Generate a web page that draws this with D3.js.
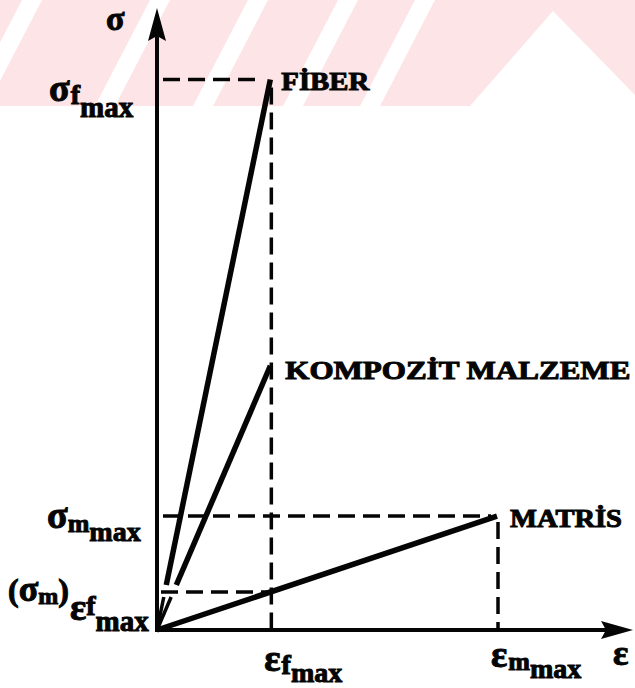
<!DOCTYPE html>
<html>
<head>
<meta charset="utf-8">
<script src="https://cdn.jsdelivr.net/npm/d3@7"></script>
<style>
  html, body { margin: 0; padding: 0; background: #fff; }
  svg { display: block; }
</style>
</head>
<body>
<svg id="chart" width="635" height="688"></svg>
<script>
// Strain values (in units of the fiber failure strain)
const strainMarks = ["f", "m"];
const strainValues = [1, 3];
// Materials, their failure strain and failure stress (stress in units of σf,max / 10)
const materials = ["FİBER", "KOMPOZİT MALZEME", "MATRİS"];
const failureStrain = [1, 1, 3];
const failureStress = [10, 4.8, 2.07];
// Matrix stress at the fiber failure strain
const matrixStressAtFiberFailure = 0.69;

const W = 635, H = 688;
const FONT = "'Liberation Serif', 'Times New Roman', serif";
const svg = d3.select("#chart");

const x = d3.scaleLinear().domain([0, 4.2]).range([157, 633]);
const y = d3.scaleLinear().domain([0, 11.3]).range([630, 8]);

// light diagonal band pattern across the top strip
const band = svg.append("g");
band.append("rect").attr("x", 0).attr("y", 0).attr("width", W).attr("height", 106).attr("fill", "#fce4e7");
const gapTops = [22, 150, 248, 338, 415];
gapTops.forEach(t => {
  band.append("polygon")
    .attr("points", `${t},0 ${t + 20},0 ${t + 20 - 55},106 ${t - 55},106`)
    .attr("fill", "#fff");
});
band.append("polygon").attr("points", "553,11 470,106 635,106 635,95").attr("fill", "#fff");

const ink = "#050505";
const g = svg.append("g");

// dashed reference lines
const dash = "17,8";
function dashed(x1, y1, x2, y2) {
  g.append("line").attr("x1", x1).attr("y1", y1).attr("x2", x2).attr("y2", y2)
    .attr("stroke", ink).attr("stroke-width", 3.5).attr("stroke-dasharray", dash);
}
// σf,max
dashed(x(0) + 6, y(failureStress[0]), x(failureStrain[0]) - 14, y(failureStress[0]));
// εf,max vertical
dashed(x(strainValues[0]) + 1, y(failureStress[0]) + 8, x(strainValues[0]) + 1, y(0) - 2);
// σm,max
dashed(x(0) + 6, y(failureStress[2]), x(failureStrain[2]) - 6, y(failureStress[2]));
// εm,max vertical
dashed(x(strainValues[1]) + 1, y(failureStress[2]) + 6, x(strainValues[1]) + 1, y(0) - 2);
// (σm) at εf,max
dashed(x(0) + 4, y(matrixStressAtFiberFailure), x(strainValues[0]) + 1, y(matrixStressAtFiberFailure));

// stress-strain lines
const gapY = y(matrixStressAtFiberFailure);
materials.forEach((m, i) => {
  const x0 = x(0), y0 = y(0), x1 = x(failureStrain[i]), y1 = y(failureStress[i]);
  if (i < 2) {
    // broken where the dashed line crosses
    const tAt = yy => (y0 - yy) / (y0 - y1);
    const ta = tAt(gapY + 5), tb = tAt(gapY - 7);
    g.append("line").attr("x1", x0).attr("y1", y0)
      .attr("x2", x0 + (x1 - x0) * ta).attr("y2", y0 + (y1 - y0) * ta)
      .attr("stroke", ink).attr("stroke-width", 3.5);
    g.append("line").attr("x1", x0 + (x1 - x0) * tb).attr("y1", y0 + (y1 - y0) * tb)
      .attr("x2", x1).attr("y2", y1)
      .attr("stroke", ink).attr("stroke-width", 5.5);
  } else {
    g.append("line").attr("x1", x0).attr("y1", y0).attr("x2", x1).attr("y2", y1)
      .attr("stroke", ink).attr("stroke-width", 5.5);
  }
});

// axes
g.append("line").attr("x1", x(0)).attr("y1", y(0) + 2).attr("x2", x(0)).attr("y2", y(11.3) + 25)
  .attr("stroke", ink).attr("stroke-width", 4);
g.append("line").attr("x1", x(0) - 2).attr("y1", y(0)).attr("x2", x(4.2) - 25).attr("y2", y(0))
  .attr("stroke", ink).attr("stroke-width", 4);
const ax = x(0), ayTop = y(11.3);
g.append("path").attr("d", `M${ax},${ayTop} L${ax + 9},${ayTop + 33} L${ax},${ayTop + 28} L${ax - 9},${ayTop + 33} Z`).attr("fill", ink);
const axR = x(4.2), ay0 = y(0);
g.append("path").attr("d", `M${axR},${ay0} L${axR - 32},${ay0 + 9} L${axR - 27},${ay0} L${axR - 32},${ay0 - 9} Z`).attr("fill", ink);

function styleText(t) {
  return t.attr("font-family", FONT).attr("font-weight", "bold")
    .attr("fill", ink).attr("stroke", ink).attr("stroke-width", 1);
}

// material labels
const labelPos = [[11, 10], [15, 13], [13, 11]];
const labelLen = [88, 345, 112];
materials.forEach((m, i) => {
  styleText(g.append("text"))
    .attr("x", x(failureStrain[i]) + labelPos[i][0])
    .attr("y", y(failureStress[i]) + labelPos[i][1])
    .attr("font-size", 25)
    .attr("textLength", labelLen[i])
    .attr("lengthAdjust", "spacingAndGlyphs")
    .text(m);
});

// math labels: sequence of [text, size, dx, dy]
function mathLabel(xx, yy, parts) {
  const t = styleText(g.append("text")).attr("x", xx).attr("y", yy);
  parts.forEach(p => {
    t.append("tspan").attr("font-size", p[1]).attr("dx", p[2] || 0).attr("dy", p[3] || 0).text(p[0]);
  });
}
// axis names
mathLabel(106, 30, [["σ", 34]]);
mathLabel(613, 665, [["ε", 36]]);
// stress marks
mathLabel(49, y(failureStress[0]) + 21, [["σ", 38], ["f", 28, 1, 3], ["max", 29, 0, 13]]);
mathLabel(47, y(failureStress[2]) + 12, [["σ", 38], ["m", 26, 0, 4], ["max", 28, 0, 9]]);
mathLabel(8, y(matrixStressAtFiberFailure) + 9, [["(", 32], ["σ", 36], ["m", 24, 0, 3], [")", 32, 0, -3], ["ε", 38, 1, 19], ["f", 28, 0, -5], ["max", 29, 0, 16]]);
// strain marks
const strainBase = [41, 37];
strainMarks.forEach((s, i) => {
  mathLabel(x(strainValues[i]) - 6, y(0) + strainBase[i], [["ε", 38], [s, s === "f" ? 28 : 26, 1, 3], ["max", 28, 0, 8]]);
});
</script>
</body>
</html>
